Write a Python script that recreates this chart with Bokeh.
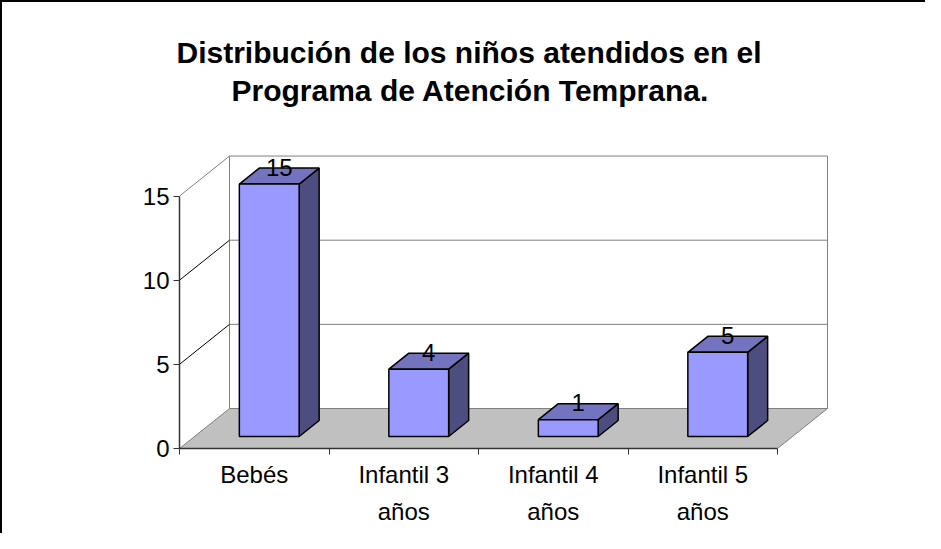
import numpy as np
from bokeh.plotting import figure
from bokeh.models import Range1d, LinearAxis, FixedTicker, ColumnDataSource, Title
from bokeh.core.properties import value
from bokeh.embed import file_html
from bokeh.resources import INLINE

# ---- data ----
categories = ["Bebés", "Infantil 3\naños", "Infantil 4\naños", "Infantil 5\naños"]
values = [15, 4, 1, 5]
y_ticks = [0, 5, 10, 15]
grid_values = [5, 10]
title_lines = ["Distribución de los niños atendidos en el", "Programa de Atención Temprana."]

# ---- layout / style constants ----
W, HF = 925, 533
M_LEFT, M_RIGHT, M_TOP, M_BOTTOM = 177, 63, 105, 87
PX_CAT = 149.5      # pixels per category
PX_UNIT = 16.83     # pixels per value unit
DEPTH_PX = (50.0, 40.0)
BAR_W = 0.4
F_FRONT, F_BACK = 0.3, 0.7
FONT = "Liberation Sans"

frame_w = W - M_LEFT - M_RIGHT
frame_h = HF - M_TOP - M_BOTTOM
DX = DEPTH_PX[0] / PX_CAT
DY = DEPTH_PX[1] / PX_UNIT
ymax = max(y_ticks)
n = len(categories)
idx = np.arange(n)
vals = np.array(values, dtype=float)

p = figure(width=W, height=HF, output_backend="svg", toolbar_location=None,
           x_range=Range1d(0, frame_w / PX_CAT), y_range=Range1d(0, frame_h / PX_UNIT),
           min_border_left=M_LEFT, min_border_right=M_RIGHT,
           min_border_top=M_TOP, min_border_bottom=M_BOTTOM,
           x_axis_type=None, y_axis_type=None, title=None)
p.outline_line_color = None
p.background_fill_color = "white"
p.border_fill_color = "white"
p.styles = {"border-left": "2px solid black", "border-top": "2px solid black"}

# titles: second line added first (closest to the frame)
t2 = Title(text=title_lines[1], align="left", offset=52, standoff=2,
           text_font=FONT, text_font_size="30px", text_font_style="bold", text_color="black")
t1 = Title(text=title_lines[0], align="left", offset=-3, standoff=3,
           text_font=FONT, text_font_size="30px", text_font_style="bold", text_color="black")
p.add_layout(t2, "above")
p.add_layout(t1, "above")

WALL = "#808080"
# left wall and back wall
p.patch([0, DX, DX, 0], [0, DY, ymax + DY, ymax], fill_color="white", line_color=None)
p.quad(left=DX, right=n + DX, bottom=DY, top=ymax + DY, fill_color="white",
       line_color=WALL, line_width=1)
# floor
p.patch([0, n, n + DX, DX], [0, 0, DY, DY], fill_color="#C0C0C0", line_color=WALL, line_width=1)
# gridlines on back wall
gv = np.array(grid_values, dtype=float)
p.segment(x0=np.full(len(gv), DX), y0=gv + DY, x1=np.full(len(gv), n + DX), y1=gv + DY,
          line_color=WALL, line_width=1)
# gridlines on left wall
p.segment(x0=np.zeros(len(gv)), y0=gv, x1=np.full(len(gv), DX), y1=gv + DY,
          line_color="black", line_width=1)
p.segment(x0=[0], y0=[ymax], x1=[DX], y1=[ymax + DY], line_color=WALL, line_width=1)

# bars
x0 = idx + 0.5 - BAR_W / 2
x1 = idx + 0.5 + BAR_W / 2
fdx, bdx = F_FRONT * DX, F_BACK * DX
fdy, bdy = F_FRONT * DY, F_BACK * DY
side_xs = [[a + fdx, a + bdx, a + bdx, a + fdx] for a in x1]
side_ys = [[fdy, bdy, v + bdy, v + fdy] for v in vals]
top_xs = [[a + fdx, b + fdx, b + bdx, a + bdx] for a, b in zip(x0, x1)]
top_ys = [[v + fdy, v + fdy, v + bdy, v + bdy] for v in vals]
p.patches(side_xs, side_ys, fill_color="#4D4D80", line_color="black", line_width=1.5)
p.patches(top_xs, top_ys, fill_color="#7373BF", line_color="black", line_width=1.5)
p.quad(left=x0 + fdx, right=x1 + fdx, bottom=np.full(n, fdy), top=vals + fdy,
       fill_color="#9999FF", line_color="black", line_width=1.5)

# value labels
src = ColumnDataSource(dict(x=idx + 0.5 + 0.5 * DX, y=vals + 0.5 * DY,
                            t=[str(v) for v in values]))
p.text(x="x", y="y", text="t", source=src, text_align="center", text_baseline="middle",
       y_offset=-9, text_font=value(FONT), text_font_size="24px", text_color="black")

# y axis (front plane)
yax = LinearAxis(ticker=FixedTicker(ticks=y_ticks), bounds=(0, ymax))
yax.axis_line_color = "#333333"
yax.axis_line_width = 1.5
yax.major_tick_line_color = "#333333"
yax.major_tick_out = 6
yax.major_tick_in = 0
yax.minor_tick_line_color = None
yax.major_label_text_font = FONT
yax.major_label_text_font_size = "24px"
yax.major_label_text_color = "black"
yax.major_label_standoff = 4
p.add_layout(yax, "left")

# x axis (front floor edge)
centers = [float(i) + 0.5 for i in idx]
xax = LinearAxis(ticker=FixedTicker(ticks=centers, minor_ticks=[float(i) for i in range(n + 1)]),
                 bounds=(0, n))
xax.major_label_overrides = {c: lab for c, lab in zip(centers, categories)}
xax.axis_line_color = "#333333"
xax.axis_line_width = 1.5
xax.major_tick_line_color = None
xax.minor_tick_line_color = "#333333"
xax.minor_tick_out = 6
xax.minor_tick_in = 0
xax.major_label_text_font = FONT
xax.major_label_text_font_size = "24px"
xax.major_label_text_color = "black"
xax.major_label_text_line_height = 1.38
xax.major_label_standoff = 6
p.add_layout(xax, "below")

open("out.html", "w").write(file_html(p, INLINE))
